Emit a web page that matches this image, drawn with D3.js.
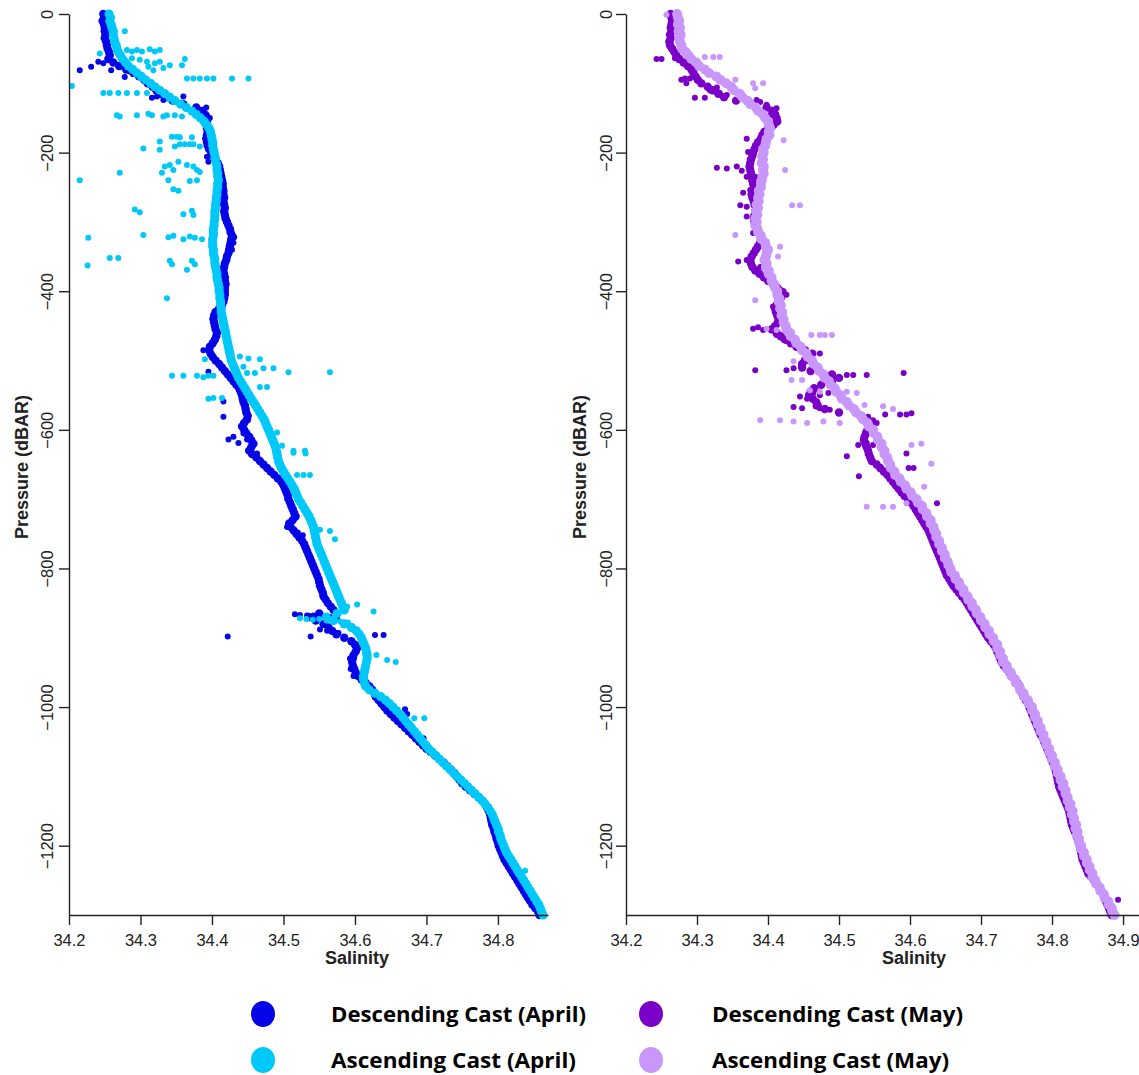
<!DOCTYPE html>
<html>
<head>
<meta charset="utf-8">
<script src="https://cdn.jsdelivr.net/npm/d3@7"></script>
<style>
  body { margin: 0; background: #fff; }
  svg { display: block; }
  .tick text, .axis-title { font-family: "Liberation Sans", Arial, sans-serif; fill: #222; }
  .legend-label { font-family: "Open Sans", "Liberation Sans", sans-serif; font-weight: 700; fill: #000; }
</style>
</head>
<body>
<svg id="chart" width="1139" height="1075"></svg>
<script>
// Sampling levels of the profiles (dBAR, plotted downward as negative values)
const pressureLevels = [
  0,-5,-10,-15,-20,-25,-30,-35,-40,-45,-50,-55,-60,-65,-70,-75,-80,-85,-90,-95,
  -100,-105,-110,-115,-120,-125,-130,-135,-140,-145,-150,-155,-160,-165,-170,-175,-180,-185,-190,-195,
  -200,-205,-210,-215,-220,-225,-230,-235,-240,-245,-250,-255,-260,-265,-270,-275,-280,-285,-290,-295,
  -300,-305,-310,-315,-320,-325,-330,-335,-340,-345,-350,-355,-360,-365,-370,-375,-380,-385,-390,-395,
  -400,-405,-410,-415,-420,-425,-430,-435,-440,-445,-450,-455,-460,-465,-470,-475,-480,-485,-490,-495,
  -500,-505,-510,-515,-520,-525,-530,-535,-540,-545,-550,-555,-560,-565,-570,-575,-580,-585,-590,-595,
  -600,-605,-610,-615,-620,-625,-630,-635,-640,-645,-650,-655,-660,-665,-670,-675,-680,-685,-690,-695,
  -700,-705,-710,-715,-720,-725,-730,-735,-740,-745,-750,-755,-760,-765,-770,-775,-780,-785,-790,-795,
  -800,-805,-810,-815,-820,-825,-830,-835,-840,-845,-850,-855,-860,-865,-870,-875,-880,-885,-890,-895,
  -900,-905,-910,-915,-920,-925,-930,-935,-940,-945,-950,-955,-960,-965,-970,-975,-980,-985,-990,-995,
  -1000,-1005,-1010,-1015,-1020,-1025,-1030,-1035,-1040,-1045,-1050,-1055,-1060,-1065,-1070,-1075,-1080,-1085,-1090,-1095,
  -1100,-1105,-1110,-1115,-1120,-1125,-1130,-1135,-1140,-1145,-1150,-1155,-1160,-1165,-1170,-1175,-1180,-1185,-1190,-1195,
  -1200,-1205,-1210,-1215,-1220,-1225,-1230,-1235,-1240,-1245,-1250,-1255,-1260,-1265,-1270,-1275,-1280,-1285,-1290,-1295,
  -1300
];

// Salinity at each level — April descending cast
const descAprilSal = [
  34.248,34.249,34.247,34.249,34.250,34.250,34.251,34.250,34.252,34.253,
  34.254,34.256,34.257,34.255,34.262,34.270,34.280,34.290,34.298,34.305,
  34.310,34.317,34.322,34.328,34.336,34.345,34.360,34.378,34.386,34.390,
  34.392,34.393,34.392,34.393,34.394,34.393,34.392,34.393,34.394,34.396,
  34.399,34.402,34.405,34.408,34.410,34.411,34.412,34.413,34.414,34.415,
  34.415,34.416,34.416,34.417,34.416,34.417,34.418,34.417,34.418,34.419,
  34.421,34.423,34.425,34.426,34.428,34.427,34.426,34.425,34.424,34.423,
  34.421,34.420,34.418,34.417,34.416,34.417,34.418,34.418,34.419,34.418,
  34.418,34.418,34.417,34.416,34.414,34.410,34.405,34.403,34.402,34.403,
  34.404,34.405,34.407,34.406,34.404,34.401,34.397,34.396,34.398,34.401,
  34.405,34.410,34.414,34.418,34.422,34.426,34.430,34.434,34.438,34.440,
  34.442,34.443,34.444,34.446,34.447,34.448,34.450,34.449,34.445,34.442,
  34.445,34.448,34.452,34.455,34.458,34.455,34.452,34.456,34.462,34.467,
  34.472,34.477,34.482,34.487,34.492,34.497,34.500,34.502,34.504,34.506,
  34.507,34.509,34.511,34.513,34.515,34.517,34.513,34.508,34.510,34.514,
  34.518,34.522,34.526,34.529,34.531,34.533,34.535,34.537,34.539,34.541,
  34.543,34.545,34.547,34.549,34.550,34.551,34.553,34.555,34.556,34.559,
  34.562,34.566,34.570,34.550,34.535,34.545,34.556,34.563,34.568,34.574,
  34.585,34.595,34.600,34.603,34.601,34.598,34.597,34.596,34.597,34.599,
  34.601,34.604,34.609,34.615,34.620,34.624,34.627,34.629,34.633,34.637,
  34.641,34.645,34.650,34.655,34.660,34.665,34.670,34.675,34.680,34.685,
  34.690,34.695,34.700,34.706,34.712,34.718,34.724,34.729,34.734,34.739,
  34.742,34.746,34.750,34.755,34.761,34.767,34.773,34.778,34.782,34.785,
  34.787,34.789,34.790,34.791,34.792,34.794,34.795,34.797,34.798,34.800,
  34.801,34.803,34.805,34.807,34.809,34.812,34.815,34.818,34.821,34.824,
  34.827,34.830,34.833,34.836,34.839,34.842,34.845,34.848,34.852,34.856,
  34.858
];

// Salinity at each level — April ascending cast
const ascAprilSal = [
  34.256,34.258,34.257,34.259,34.260,34.262,34.262,34.263,34.264,34.266,
  34.267,34.269,34.272,34.275,34.279,34.283,34.289,34.295,34.301,34.307,
  34.314,34.320,34.327,34.334,34.341,34.348,34.356,34.364,34.372,34.378,
  34.384,34.389,34.393,34.396,34.398,34.399,34.400,34.401,34.401,34.402,
  34.403,34.404,34.405,34.406,34.407,34.407,34.408,34.408,34.409,34.408,
  34.408,34.407,34.407,34.406,34.406,34.405,34.405,34.404,34.404,34.404,
  34.403,34.403,34.402,34.402,34.402,34.401,34.401,34.401,34.402,34.402,
  34.403,34.404,34.404,34.405,34.406,34.407,34.407,34.408,34.409,34.410,
  34.410,34.411,34.411,34.412,34.412,34.413,34.413,34.414,34.415,34.416,
  34.417,34.418,34.419,34.420,34.421,34.422,34.423,34.424,34.425,34.426,
  34.427,34.429,34.431,34.433,34.435,34.437,34.440,34.443,34.446,34.449,
  34.452,34.455,34.458,34.461,34.464,34.467,34.470,34.473,34.475,34.477,
  34.479,34.481,34.483,34.485,34.487,34.489,34.490,34.491,34.492,34.493,
  34.495,34.497,34.500,34.503,34.506,34.509,34.512,34.515,34.517,34.519,
  34.521,34.524,34.527,34.530,34.533,34.536,34.538,34.540,34.542,34.543,
  34.544,34.545,34.546,34.547,34.549,34.551,34.553,34.555,34.557,34.559,
  34.561,34.563,34.565,34.567,34.569,34.571,34.573,34.575,34.577,34.579,
  34.581,34.583,34.585,34.575,34.560,34.570,34.585,34.595,34.602,34.606,
  34.609,34.611,34.613,34.615,34.616,34.617,34.617,34.616,34.615,34.614,
  34.613,34.612,34.612,34.613,34.615,34.620,34.628,34.636,34.643,34.648,
  34.653,34.658,34.663,34.667,34.671,34.675,34.679,34.683,34.687,34.691,
  34.695,34.699,34.703,34.708,34.713,34.718,34.723,34.728,34.733,34.738,
  34.743,34.748,34.753,34.758,34.763,34.768,34.773,34.778,34.782,34.786,
  34.789,34.792,34.794,34.796,34.798,34.800,34.801,34.803,34.804,34.806,
  34.808,34.810,34.812,34.815,34.818,34.821,34.824,34.827,34.830,34.833,
  34.836,34.839,34.842,34.845,34.848,34.851,34.854,34.857,34.859,34.861,
  34.863
];

// Salinity at each level — May descending cast
const descMaySal = [
  34.263,34.264,34.265,34.264,34.263,34.264,34.262,34.263,34.261,34.262,
  34.265,34.268,34.271,34.275,34.281,34.287,34.292,34.295,34.298,34.301,
  34.306,34.315,34.322,34.330,34.338,34.355,34.380,34.398,34.406,34.410,
  34.412,34.413,34.408,34.400,34.395,34.392,34.390,34.386,34.383,34.381,
  34.379,34.378,34.376,34.375,34.374,34.375,34.376,34.377,34.378,34.379,
  34.380,34.378,34.377,34.378,34.380,34.381,34.383,34.382,34.381,34.380,
  34.381,34.383,34.385,34.387,34.389,34.390,34.389,34.386,34.383,34.380,
  34.377,34.375,34.376,34.378,34.382,34.388,34.394,34.400,34.407,34.413,
  34.418,34.420,34.418,34.415,34.412,34.410,34.411,34.413,34.415,34.414,
  34.410,34.405,34.412,34.418,34.425,34.432,34.440,34.452,34.462,34.460,
  34.452,34.448,34.448,34.460,34.490,34.500,34.490,34.475,34.465,34.460,
  34.458,34.463,34.468,34.470,34.480,34.500,34.530,34.540,34.545,34.543,
  34.540,34.538,34.536,34.535,34.537,34.539,34.541,34.542,34.544,34.546,
  34.553,34.558,34.563,34.568,34.572,34.576,34.580,34.584,34.588,34.592,
  34.597,34.601,34.605,34.608,34.611,34.614,34.617,34.620,34.623,34.626,
  34.628,34.630,34.632,34.634,34.636,34.638,34.640,34.642,34.644,34.646,
  34.648,34.650,34.652,34.655,34.658,34.661,34.665,34.669,34.673,34.677,
  34.680,34.683,34.686,34.689,34.692,34.695,34.698,34.701,34.704,34.707,
  34.710,34.714,34.718,34.721,34.723,34.725,34.727,34.729,34.732,34.736,
  34.740,34.744,34.748,34.751,34.754,34.756,34.758,34.760,34.763,34.766,
  34.768,34.770,34.772,34.774,34.776,34.778,34.780,34.782,34.784,34.787,
  34.789,34.791,34.793,34.795,34.797,34.799,34.801,34.803,34.805,34.806,
  34.807,34.808,34.809,34.810,34.812,34.814,34.816,34.818,34.820,34.822,
  34.824,34.825,34.826,34.827,34.828,34.830,34.832,34.834,34.836,34.838,
  34.839,34.840,34.841,34.842,34.843,34.845,34.847,34.849,34.851,34.855,
  34.859,34.863,34.866,34.869,34.872,34.874,34.876,34.878,34.880,34.882,
  34.884
];

// Salinity at each level — May ascending cast
const ascMaySal = [
  34.272,34.273,34.275,34.273,34.276,34.274,34.277,34.275,34.276,34.278,
  34.279,34.284,34.288,34.292,34.299,34.303,34.311,34.317,34.327,34.333,
  34.341,34.348,34.352,34.360,34.364,34.371,34.375,34.383,34.386,34.393,
  34.396,34.400,34.401,34.403,34.401,34.402,34.398,34.397,34.396,34.393,
  34.394,34.392,34.393,34.391,34.394,34.393,34.394,34.392,34.391,34.390,
  34.390,34.387,34.388,34.386,34.387,34.384,34.386,34.383,34.385,34.382,
  34.384,34.382,34.385,34.386,34.390,34.391,34.396,34.397,34.400,34.398,
  34.397,34.395,34.398,34.397,34.401,34.401,34.405,34.405,34.409,34.410,
  34.413,34.413,34.416,34.415,34.418,34.417,34.420,34.419,34.422,34.422,
  34.425,34.426,34.431,34.432,34.438,34.440,34.446,34.448,34.454,34.456,
  34.462,34.464,34.470,34.472,34.478,34.480,34.486,34.488,34.494,34.496,
  34.502,34.504,34.511,34.514,34.521,34.524,34.531,34.534,34.540,34.542,
  34.548,34.549,34.554,34.555,34.560,34.560,34.564,34.564,34.568,34.569,
  34.572,34.573,34.578,34.579,34.585,34.587,34.593,34.595,34.601,34.603,
  34.609,34.611,34.617,34.618,34.623,34.624,34.629,34.629,34.633,34.634,
  34.637,34.637,34.641,34.641,34.645,34.645,34.649,34.649,34.653,34.654,
  34.657,34.658,34.663,34.664,34.669,34.670,34.675,34.676,34.681,34.682,
  34.687,34.688,34.693,34.694,34.699,34.700,34.705,34.706,34.711,34.712,
  34.717,34.718,34.723,34.723,34.727,34.727,34.731,34.731,34.736,34.737,
  34.742,34.743,34.748,34.749,34.754,34.755,34.760,34.761,34.766,34.767,
  34.772,34.772,34.776,34.776,34.780,34.780,34.784,34.784,34.788,34.788,
  34.792,34.792,34.796,34.796,34.800,34.800,34.804,34.804,34.808,34.808,
  34.812,34.812,34.816,34.815,34.819,34.819,34.822,34.822,34.826,34.825,
  34.829,34.828,34.831,34.831,34.834,34.833,34.836,34.835,34.838,34.838,
  34.841,34.841,34.845,34.845,34.849,34.849,34.853,34.853,34.857,34.857,
  34.861,34.862,34.867,34.868,34.873,34.874,34.879,34.880,34.884,34.885,
  34.888
];

// Scattered readings off the main profile: [pressure, salinity]
const descAprilScatter = [
  [-81,34.215],[-76,34.231],[-69,34.241],[-71,34.248],[-81,34.259],[-76,34.273],[-91,34.278],[-83,34.285],
  [-86,34.290],[-97,34.306],[-121,34.316],[-119,34.323],[-124,34.332],[-119,34.360],[-141,34.379],[-138,34.388],
  [-146,34.393],[-146,34.386],[-135,34.392],[-150,34.397],[-206,34.393],[-213,34.395],[-322,34.431],[-330,34.430],
  [-340,34.428],[-485,34.388],[-516,34.395],[-485,34.397],[-581,34.416],[-559,34.416],[-614,34.423],[-610,34.430],
  [-619,34.437],[-605,34.444],[-614,34.449],[-624,34.456],[-634,34.463],[-740,34.505],[-742,34.512],[-748,34.520],
  [-752,34.527],[-866,34.516],[-867,34.523],[-868,34.533],[-868,34.542],[-869,34.554],[-870,34.565],[-870,34.575],
  [-888,34.551],[-890,34.561],[-891,34.570],[-893,34.577],[-898,34.422],[-898,34.538],[-896,34.628],[-896,34.640],
  [-930,34.593],[-945,34.594],[-955,34.598],[-1003,34.670],[-1010,34.673],[-1045,34.696]
];

const ascAprilScatter = [
  [-57,34.243],[-25,34.278],[-52,34.281],[-54,34.288],[-52,34.295],[-54,34.302],[-51,34.313],[-54,34.320],
  [-52,34.327],[-64,34.288],[-66,34.299],[-69,34.309],[-71,34.320],[-69,34.327],[-74,34.341],[-78,34.332],
  [-74,34.358],[-65,34.362],[-76,34.311],[-81,34.318],
  [-93,34.365],[-93,34.374],[-93,34.383],[-93,34.393],[-93,34.402],[-93,34.428],[-93,34.451],
  [-104,34.204],
  [-114,34.248],[-114,34.257],[-114,34.269],[-114,34.281],[-114,34.295],[-114,34.309],
  [-146,34.267],[-148,34.271],[-146,34.295],[-144,34.311],[-146,34.316],[-148,34.332],[-146,34.337],[-146,34.348],[-148,34.358],
  [-184,34.327],[-177,34.344],[-177,34.351],[-178,34.355],[-178,34.372],[-191,34.348],[-188,34.355],[-188,34.362],
  [-188,34.369],[-188,34.374],[-191,34.383],[-196,34.327],[-194,34.304],
  [-229,34.330],[-220,34.334],[-218,34.341],[-225,34.346],[-213,34.353],[-218,34.365],[-220,34.374],[-225,34.379],
  [-228,34.383],[-229,34.271],
  [-240,34.215],[-240,34.339],[-241,34.369],[-240,34.379],[-253,34.346],[-255,34.353],
  [-282,34.292],[-286,34.299],[-289,34.360],[-284,34.372],[-290,34.374],
  [-323,34.227],[-319,34.304],[-322,34.339],[-320,34.346],[-325,34.360],[-321,34.369],[-323,34.376],[-325,34.386],
  [-352,34.257],[-352,34.269],[-356,34.341],[-361,34.344],[-356,34.372],[-361,34.376],[-369,34.365],[-363,34.226],
  [-410,34.337],
  [-498,34.390],[-494,34.439],[-497,34.451],[-498,34.467],
  [-522,34.344],[-522,34.360],[-522,34.379],[-524,34.388],[-522,34.395],[-522,34.402],[-509,34.444],[-518,34.449],
  [-518,34.460],[-511,34.472],[-511,34.486],[-517,34.507],[-517,34.565],
  [-538,34.467],[-538,34.477],[-555,34.395],[-554,34.402],[-554,34.414],
  [-604,34.491],[-623,34.498],[-633,34.514],[-634,34.531],[-630,34.514],[-630,34.530],
  [-665,34.519],[-665,34.528],[-665,34.537],[-744,34.551],[-746,34.565],[-758,34.572],
  [-855,34.589],[-852,34.603],[-862,34.626],
  [-872,34.523],[-873,34.532],[-874,34.541],[-873,34.550],[-875,34.560],[-876,34.570],[-877,34.580],[-878,34.590],
  [-925,34.630],[-932,34.645],[-935,34.657],[-1016,34.683],[-1016,34.697],[-1236,34.838]
];

const descMayScatter = [
  [-65,34.243],[-65,34.250],[-64,34.269],[-66,34.274],[-95,34.278],[-93,34.283],[-100,34.285],[-93,34.290],
  [-83,34.293],[-121,34.297],[-121,34.311],[-110,34.318],[-112,34.325],[-114,34.332],[-119,34.337],[-117,34.342],
  [-106,34.328],[-124,34.384],[-127,34.389],[-131,34.398],[-138,34.405],[-136,34.412],[-146,34.403],[-148,34.410],
  [-155,34.414],[-180,34.370],[-199,34.372],[-201,34.377],[-222,34.328],[-223,34.342],[-220,34.356],[-226,34.363],
  [-235,34.370],[-242,34.377],[-235,34.382],[-254,34.375],[-258,34.365],[-276,34.361],[-278,34.370],[-271,34.382],
  [-268,34.384],[-292,34.370],[-316,34.379],[-326,34.393],[-357,34.358],[-355,34.370],[-365,34.377],[-369,34.384],
  [-365,34.389],[-393,34.412],[-400,34.422],[-405,34.426],[-422,34.407],[-432,34.412],[-441,34.417],[-454,34.379],
  [-452,34.386],[-456,34.393],[-463,34.412],[-470,34.422],[-473,34.431],[-490,34.464],[-490,34.473],[-514,34.382],
  [-514,34.426],[-511,34.436],[-509,34.448],[-523,34.492],[-525,34.501],[-521,34.511],[-521,34.520],[-521,34.539],
  [-518,34.591],[-552,34.445],[-555,34.455],[-547,34.464],[-550,34.473],[-547,34.485],[-567,34.436],[-569,34.448],
  [-566,34.467],[-569,34.473],[-571,34.487],[-583,34.534],[-581,34.541],[-586,34.548],[-590,34.553],[-578,34.565],
  [-578,34.586],[-578,34.595],[-576,34.602],[-622,34.527],[-619,34.539],[-622,34.548],[-639,34.544],[-634,34.595],
  [-638,34.511],[-667,34.528],[-655,34.598],[-655,34.605],[-706,34.638],[-1278,34.893]
];

const ascMayScatter = [
  [-1,34.257],[-62,34.311],[-62,34.323],[-62,34.332],[-95,34.354],[-100,34.379],[-100,34.393],[-107,34.382],
  [-182,34.422],[-225,34.424],[-276,34.434],[-276,34.445],[-319,34.354],[-336,34.417],[-350,34.414],[-413,34.382],
  [-454,34.398],[-456,34.412],[-463,34.461],[-463,34.473],[-463,34.480],[-463,34.490],[-501,34.436],[-528,34.433],
  [-528,34.448],[-543,34.459],[-545,34.473],[-545,34.511],[-547,34.525],[-564,34.536],[-566,34.562],[-570,34.576],
  [-586,34.389],[-586,34.417],[-588,34.436],[-590,34.455],[-588,34.478],[-590,34.501],[-622,34.602],[-620,34.616],
  [-711,34.539],[-711,34.562],[-711,34.576],[-706,34.595],[-649,34.630],[-682,34.620]
];

const pressureTicks = [0, -200, -400, -600, -800, -1000, -1200];
const salinityTicksApril = [34.2, 34.3, 34.4, 34.5, 34.6, 34.7, 34.8];
const salinityTicksMay = [34.2, 34.3, 34.4, 34.5, 34.6, 34.7, 34.8, 34.9];

const legendLabels = [
  "Descending Cast (April)", "Ascending Cast (April)",
  "Descending Cast (May)", "Ascending Cast (May)"
];
const castColors = ["#0505e6", "#00c8f8", "#7a00c8", "#c997fb"];

const svg = d3.select("#chart");
svg.append("rect").attr("width", 1139).attr("height", 1075).attr("fill", "#fff");

const y = d3.scaleLinear().domain([0, -1300]).range([14, 915]);

const panels = [
  {
    x: d3.scaleLinear().domain([34.2, 34.870]).range([69, 548]),
    ticks: salinityTicksApril,
    casts: [
      { sal: descAprilSal, scatter: descAprilScatter, color: castColors[0], r: 4.2 },
      { sal: ascAprilSal, scatter: ascAprilScatter, color: castColors[1], r: 4.6 }
    ],
    labelOffset: -16, yTitleX: 28, xTitleX: 357
  },
  {
    x: d3.scaleLinear().domain([34.2, 34.9225]).range([626, 1139]),
    ticks: salinityTicksMay,
    casts: [
      { sal: descMaySal, scatter: descMayScatter, color: castColors[2], r: 4.2 },
      { sal: ascMaySal, scatter: ascMayScatter, color: castColors[3], r: 5 }
    ],
    labelOffset: -14, yTitleX: 586, xTitleX: 914
  }
];

panels.forEach(p => {
  const g = svg.append("g");
  const x0 = p.x.range()[0];

  // profile dots: descending cast first, ascending cast on top
  p.casts.forEach(c => {
    const layer = g.append("g").attr("fill", c.color);
    layer.selectAll("circle.profile")
      .data(pressureLevels.map((pr, i) => [pr, c.sal[i]]))
      .join("circle").attr("class", "profile")
      .attr("cx", d => p.x(d[1]))
      .attr("cy", d => y(d[0]))
      .attr("r", c.r);
    layer.selectAll("circle.scatter")
      .data(c.scatter)
      .join("circle").attr("class", "scatter")
      .attr("cx", d => p.x(d[1]))
      .attr("cy", d => y(d[0]))
      .attr("r", 3);
  });

  // y axis
  const ya = g.append("g").attr("transform", `translate(${x0},0)`)
    .call(d3.axisLeft(y).tickValues(pressureTicks).tickSize(10).tickSizeOuter(0).tickFormat(d3.format("d")));
  ya.selectAll("text")
    .attr("transform", "rotate(-90)")
    .attr("x", 0).attr("y", p.labelOffset).attr("dy", 0)
    .style("text-anchor", "middle")
    .style("font-size", "16.5px");

  // x axis
  const xa = g.append("g").attr("transform", `translate(0,${y(-1300)})`)
    .call(d3.axisBottom(p.x).tickValues(p.ticks).tickSize(10).tickSizeOuter(0).tickPadding(9).tickFormat(d3.format(".1f")));
  xa.selectAll("text").style("font-size", "16.5px");

  [ya, xa].forEach(a => {
    a.select(".domain").attr("stroke", "#222").attr("stroke-width", 1.4);
    a.selectAll(".tick line").attr("stroke", "#222").attr("stroke-width", 1.4);
  });

  // axis titles
  g.append("text").attr("class", "axis-title")
    .attr("x", p.xTitleX).attr("y", 964)
    .attr("text-anchor", "middle")
    .style("font-size", "18px").style("font-weight", "700")
    .text("Salinity");
  g.append("text").attr("class", "axis-title")
    .attr("transform", `translate(${p.yTitleX},467) rotate(-90)`)
    .attr("text-anchor", "middle")
    .style("font-size", "18px").style("font-weight", "700")
    .text("Pressure (dBAR)");
});

// legend
const legendPos = [
  { cx: 263, cy: 1014, tx: 331, tw: 255 },
  { cx: 263, cy: 1060, tx: 331, tw: 245 },
  { cx: 651, cy: 1014, tx: 712, tw: 251 },
  { cx: 651, cy: 1060, tx: 712, tw: 237 }
];
const legend = svg.append("g");
legendLabels.forEach((lab, i) => {
  const lp = legendPos[i];
  legend.append("ellipse")
    .attr("cx", lp.cx).attr("cy", lp.cy).attr("rx", 12).attr("ry", 13)
    .attr("fill", castColors[i]);
  legend.append("text").attr("class", "legend-label")
    .attr("x", lp.tx).attr("y", lp.cy + 8)
    .attr("textLength", lp.tw).attr("lengthAdjust", "spacingAndGlyphs")
    .style("font-size", "22px")
    .text(lab);
});
</script>
</body>
</html>
